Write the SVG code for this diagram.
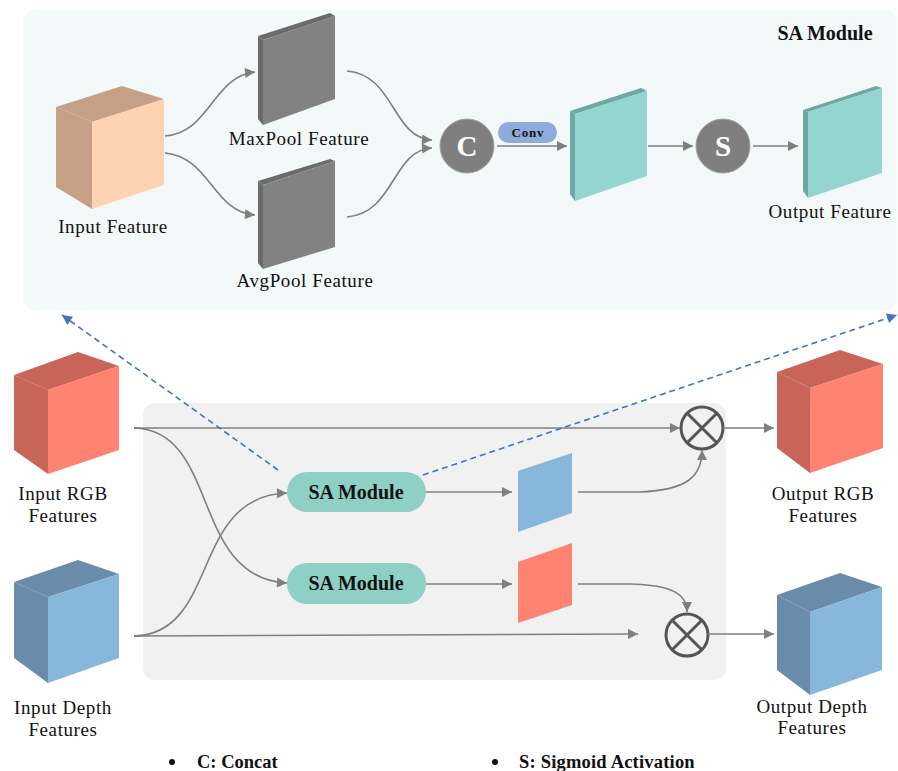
<svg xmlns="http://www.w3.org/2000/svg" width="898" height="771" viewBox="0 0 898 771">
  <defs>
    <marker id="arr" viewBox="0 0 10 10" refX="10" refY="5" markerWidth="11" markerHeight="10" markerUnits="userSpaceOnUse" orient="auto">
      <path d="M0,0 L10,5 L0,10 z" fill="#7f7f7f"/>
    </marker>
    <marker id="arrBlue" viewBox="0 0 10 10" refX="10" refY="5" markerWidth="12" markerHeight="10" markerUnits="userSpaceOnUse" orient="auto">
      <path d="M0,0 L10,5 L0,10 z" fill="#4472c4"/>
    </marker>
    <style>
      text { font-family: 'Liberation Serif', 'DejaVu Serif', serif; }
      .lbl { font-size: 19px; fill: #111; text-anchor: middle; letter-spacing: 0.6px; }
      .bold { font-weight: bold; fill: #111; }
      .op { font-size: 29px; font-weight: bold; fill: #fff; text-anchor: middle; }
      .conn { fill: none; stroke: #7f7f7f; stroke-width: 1.6; marker-end: url(#arr); }
      .dash { fill: none; stroke: #4472c4; stroke-width: 1.6; stroke-dasharray: 6 4; marker-end: url(#arrBlue); }
      .opc { fill: #7f7f7f; stroke: #a0a0a0; stroke-width: 1; }
      .mul { fill: none; stroke: #555; stroke-width: 3; }
      .pill { fill: #8ecfc6; }
      .peach-dk { fill: #c6a086; } .peach { fill: #ffd3b2; }
      .gray-dk { fill: #6b6b6b; } .gray { fill: #828282; }
      .teal-dk { fill: #6fa8a2; } .teal { fill: #94d6cf; }
      .red-dk { fill: #c86558; } .red { fill: #fe8370; }
      .blue-dk { fill: #6a8caa; } .blue { fill: #88b7dc; }
    </style>
  </defs>

  <!-- panels -->
  <rect id="sa-panel" x="23" y="10" width="874" height="300" rx="12" fill="#f3f8f8"/>
  <rect id="fusion-panel" x="143" y="403" width="583" height="277" rx="12" fill="#f1f1f1"/>

  <!-- SA module internals -->
  <g id="input-feature">
    <polygon class="peach-dk" points="56,107 122,86 164,99 92,122"/>
    <polygon class="peach-dk" points="56,107 92,122 92,209 56,187"/>
    <polygon class="peach" points="92,122 164,99 164,185 92,209"/>
    <text class="lbl" x="113" y="233">Input Feature</text>
  </g>
  <g id="maxpool-feature">
    <polygon class="gray-dk" points="258,36 330,13 335,16 263,40"/>
    <polygon class="gray-dk" points="258,36 263,40 263,125 258,119"/>
    <polygon class="gray" points="263,40 335,16 335,99 263,125"/>
    <text class="lbl" x="299" y="145">MaxPool Feature</text>
  </g>
  <g id="avgpool-feature">
    <polygon class="gray-dk" points="258,181 330,159 335,161 263,185"/>
    <polygon class="gray-dk" points="258,181 263,185 263,269 258,263"/>
    <polygon class="gray" points="263,185 335,161 335,247 263,269"/>
    <text class="lbl" x="305" y="287">AvgPool Feature</text>
  </g>
  <g id="concat">
    <circle class="opc" cx="467" cy="146" r="27"/>
    <text class="op" x="467" y="156">C</text>
  </g>
  <g id="conv">
    <rect x="498" y="122" width="59" height="21" rx="10.5" fill="#8faadc"/>
    <text class="bold" x="528" y="137" font-size="13" text-anchor="middle" letter-spacing="0.8">Conv</text>
  </g>
  <g id="conv-map">
    <polygon class="teal-dk" points="570,111 641,88 647,91 575,114"/>
    <polygon class="teal-dk" points="570,111 575,114 575,201 570,194"/>
    <polygon class="teal" points="575,114 647,91 647,176 575,201"/>
  </g>
  <g id="sigmoid">
    <circle class="opc" cx="723" cy="146" r="27"/>
    <text class="op" x="723" y="156">S</text>
  </g>
  <g id="output-feature">
    <polygon class="teal-dk" points="803,110 876,86 882,88 808,112"/>
    <polygon class="teal-dk" points="803,110 808,112 808,198 803,191"/>
    <polygon class="teal" points="808,112 882,88 882,173 808,198"/>
    <text class="lbl" x="830" y="218">Output Feature</text>
  </g>
  <g id="sa-title">
    <text class="bold" x="825" y="40" font-size="20" text-anchor="middle">SA Module</text>
  </g>

  <!-- fusion block -->
  <g id="input-rgb">
    <polygon class="red-dk" points="14,375 78,352 119,366 48,390"/>
    <polygon class="red-dk" points="14,375 48,390 48,474 14,450"/>
    <polygon class="red" points="48,390 119,366 119,450 48,474"/>
    <text class="lbl" x="63" y="500">Input RGB</text>
    <text class="lbl" x="63" y="522">Features</text>
  </g>
  <g id="input-depth">
    <polygon class="blue-dk" points="14,582 78,560 119,574 48,597"/>
    <polygon class="blue-dk" points="14,582 48,597 48,683 14,658"/>
    <polygon class="blue" points="48,597 119,574 119,658 48,683"/>
    <text class="lbl" x="63" y="714">Input Depth</text>
    <text class="lbl" x="63" y="736">Features</text>
  </g>
  <g id="sa-module-1">
    <rect class="pill" x="287" y="472" width="139" height="40" rx="20"/>
    <text class="bold" x="356" y="499" font-size="20" text-anchor="middle">SA Module</text>
  </g>
  <g id="sa-module-2">
    <rect class="pill" x="287" y="563" width="139" height="41" rx="20"/>
    <text class="bold" x="356" y="590" font-size="20" text-anchor="middle">SA Module</text>
  </g>
  <g id="depth-attention">
    <polygon class="blue" points="518,471 572,453 572,513 518,532"/>
  </g>
  <g id="rgb-attention">
    <polygon class="red" points="518,562 572,543 572,605 518,623"/>
  </g>
  <g id="mul-rgb">
    <circle class="mul" cx="702" cy="428" r="21"/>
    <path class="mul" d="M687.2,413.2 L716.8,442.8 M716.8,413.2 L687.2,442.8"/>
  </g>
  <g id="mul-depth">
    <circle class="mul" cx="687" cy="635" r="21"/>
    <path class="mul" d="M672.2,620.2 L701.8,649.8 M701.8,620.2 L672.2,649.8"/>
  </g>
  <g id="output-rgb">
    <polygon class="red-dk" points="777,372 840,350 883,364 810,388"/>
    <polygon class="red-dk" points="777,372 810,388 810,473 777,448"/>
    <polygon class="red" points="810,388 883,364 883,448 810,473"/>
    <text class="lbl" x="823" y="500">Output RGB</text>
    <text class="lbl" x="823" y="522">Features</text>
  </g>
  <g id="output-depth">
    <polygon class="blue-dk" points="777,595 840,573 882,587 810,612"/>
    <polygon class="blue-dk" points="777,595 810,612 810,695 777,670"/>
    <polygon class="blue" points="810,612 882,587 882,670 810,695"/>
    <text class="lbl" x="812" y="713">Output Depth</text>
    <text class="lbl" x="812" y="734">Features</text>
  </g>

  <!-- connectors -->
  <g id="connectors">
    <path class="conn" d="M165,136 C210,133 213,76 255,72"/>
    <path class="conn" d="M165,153 C210,157 213,212 255,215"/>
    <path class="conn" d="M347,71 C395,75 392,138 432,140"/>
    <path class="conn" d="M347,217 C395,213 392,150 432,148"/>
    <path class="conn" d="M497,146 L567,146"/>
    <path class="conn" d="M648,146 L693,146"/>
    <path class="conn" d="M753,146 L798,146"/>

    <path class="conn" d="M134,428 L680,428"/>
    <path class="conn" d="M134,428 C220,430 190,578 287,583"/>
    <path class="conn" d="M134,636 C220,634 190,496 287,493"/>
    <path class="conn" d="M134,636 L638,634"/>
    <path class="conn" d="M426,492 L512,492"/>
    <path class="conn" d="M426,584 L512,584"/>
    <path class="conn" d="M578,492 L640,492 C688,490 702,476 702,450"/>
    <path class="conn" d="M578,584 L630,584 C672,585 687,594 687,612"/>
    <path class="conn" d="M723,428 L774,428"/>
    <path class="conn" d="M708,634 L774,634"/>

    <path class="dash" d="M278,470 L62,315"/>
    <path class="dash" d="M423,475 L897,315"/>
  </g>

  <!-- legend -->
  <g id="legend">
    <circle cx="172" cy="762" r="3" fill="#111"/>
    <text class="bold" x="197" y="768" font-size="18.5">C: Concat</text>
    <circle cx="495" cy="762" r="3" fill="#111"/>
    <text class="bold" x="519" y="768" font-size="18.5" letter-spacing="0.2">S: Sigmoid Activation</text>
  </g>
</svg>
